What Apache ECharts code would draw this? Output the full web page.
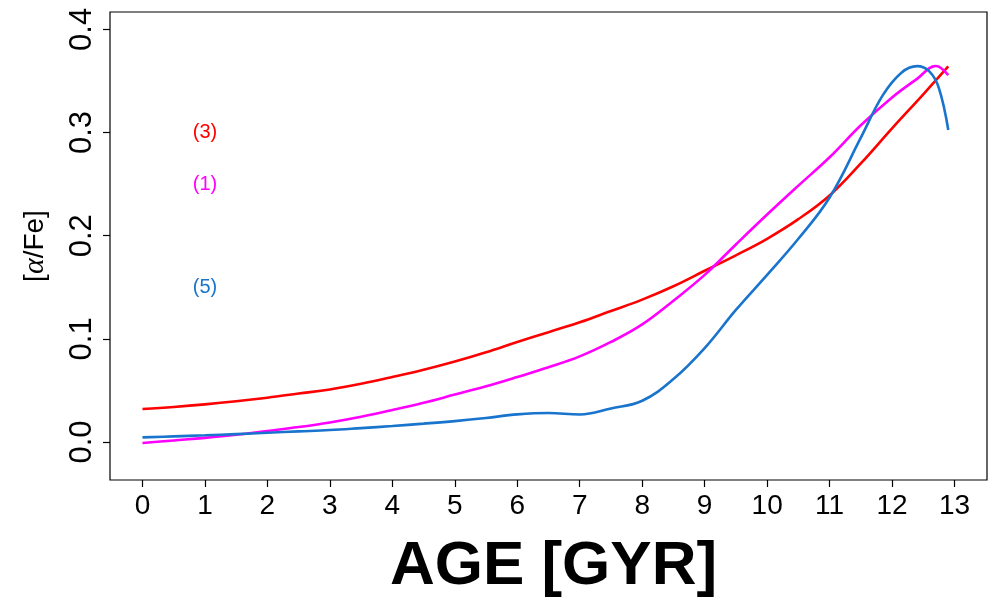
<!DOCTYPE html>
<html>
<head>
<meta charset="utf-8">
<script src="https://cdn.jsdelivr.net/npm/echarts@6/dist/echarts.min.js"></script>
<style>
  html, body { margin: 0; padding: 0; background: #fff; }
  #chart { width: 998px; height: 599px; }
</style>
</head>
<body>
<div id="chart"></div>
<script>
// [alpha/Fe] evolution with age for three models
const ageTicks = [0, 1, 2, 3, 4, 5, 6, 7, 8, 9, 10, 11, 12, 13];
const alphaTicks = [0, 0.1, 0.2, 0.3, 0.4];

// model (3)
const ageM3 = [0, 0.5, 1, 1.5, 2, 2.5, 3, 3.5, 4, 4.5, 5, 5.5, 6, 6.5, 7, 7.5, 8, 8.5, 9, 9.5, 10, 10.5, 11, 11.5, 12, 12.5, 12.9];
const alphaM3 = [0.032, 0.034, 0.0365, 0.0395, 0.043, 0.047, 0.051, 0.0565, 0.063, 0.070, 0.078, 0.087, 0.097, 0.1065, 0.116, 0.127, 0.138, 0.151, 0.166, 0.181, 0.197, 0.216, 0.239, 0.270, 0.304, 0.337, 0.364];

// model (1)
const ageM1 = [0, 0.5, 1, 1.5, 2, 2.5, 3, 3.5, 4, 4.5, 5, 5.5, 6, 6.5, 7, 7.5, 8, 8.5, 9, 9.5, 10, 10.5, 11, 11.5, 12, 12.4, 12.7, 12.9];
const alphaM1 = [-0.001, 0.0015, 0.004, 0.007, 0.0107, 0.0145, 0.019, 0.0245, 0.031, 0.038, 0.046, 0.054, 0.063, 0.0725, 0.083, 0.097, 0.114, 0.137, 0.162, 0.1915, 0.2205, 0.2485, 0.276, 0.307, 0.334, 0.352, 0.3645, 0.3556];

// model (5)
const ageM5 = [0, 0.5, 1, 1.5, 2, 2.5, 3, 3.5, 4, 4.5, 5, 5.5, 6, 6.5, 7, 7.5, 8, 8.5, 9, 9.5, 10, 10.5, 11, 11.5, 11.85, 12.15, 12.4, 12.6, 12.75, 12.9];
const alphaM5 = [0.0045, 0.0055, 0.0065, 0.0077, 0.009, 0.0103, 0.0116, 0.0135, 0.0155, 0.0178, 0.0203, 0.0233, 0.0268, 0.0282, 0.0267, 0.0325, 0.040, 0.061, 0.091, 0.128, 0.162, 0.197, 0.237, 0.295, 0.336, 0.358, 0.3643, 0.359, 0.343, 0.3024];

// labels placed inside the plot
const modelNames = ['(3)', '(1)', '(5)'];
const labelAge = 1;
const labelAlpha = [0.3, 0.25, 0.15];

const colors = ['#ff0000', '#ff00ff', '#1874cd'];
const FONT = "'Liberation Sans', Arial, Helvetica, sans-serif";

function zip(xs, ys) { return xs.map((x, i) => [x, ys[i]]); }

function lineSeries(name, xs, ys, color, idx) {
  return {
    name: name,
    type: 'line',
    data: zip(xs, ys),
    smooth: 0.4,
    showSymbol: false,
    symbol: 'none',
    lineStyle: { color: color, width: 2.6 },
    itemStyle: { color: color },
    silent: true,
    markPoint: {
      symbol: 'circle',
      symbolSize: 0,
      silent: true,
      label: {
        show: true,
        position: 'inside',
        formatter: modelNames[idx],
        color: color,
        fontSize: 20,
        fontFamily: FONT
      },
      data: [{ coord: [labelAge, labelAlpha[idx]] }]
    }
  };
}

const chart = echarts.init(document.getElementById('chart'), null, { renderer: 'canvas' });
chart.setOption({
  animation: false,
  backgroundColor: '#ffffff',
  grid: {
    left: 110, right: 11, top: 12, bottom: 119,
    containLabel: false,
    outerBoundsMode: 'none',
    show: true, borderColor: '#000', borderWidth: 1.2, backgroundColor: 'transparent'
  },
  xAxis: {
    type: 'value',
    min: -0.52, max: 13.52,
    position: 'bottom',
    name: 'AGE [GYR]',
    nameLocation: 'middle',
    nameGap: 56,
    nameTextStyle: { fontSize: 62, fontWeight: 'bold', color: '#000', fontFamily: FONT, padding: [0, 0, 0, 10] },
    axisLine: { show: false, onZero: false },
    splitLine: { show: false },
    axisTick: { show: true, inside: false, length: 7, customValues: ageTicks, lineStyle: { color: '#000', width: 1.2 } },
    axisLabel: { show: true, customValues: ageTicks, margin: 12, fontSize: 28, color: '#000', fontFamily: FONT, formatter: v => String(v) }
  },
  yAxis: {
    type: 'value',
    min: -0.0368, max: 0.4168,
    position: 'left',
    name: '{b|[}{a|α}{b|/Fe]}',
    nameLocation: 'middle',
    nameGap: 60,
    nameRotate: 90,
    nameTextStyle: {
      rich: {
        a: { fontSize: 30, fontStyle: 'italic', fontFamily: "'Liberation Serif', 'DejaVu Serif', serif", color: '#000' },
        b: { fontSize: 28, fontFamily: FONT, color: '#000' }
      }
    },
    axisLine: { show: false, onZero: false },
    splitLine: { show: false },
    axisTick: { show: true, inside: false, length: 7, customValues: alphaTicks, lineStyle: { color: '#000', width: 1.2 } },
    axisLabel: { show: true, customValues: alphaTicks, rotate: 90, margin: 12, fontSize: 31, color: '#000', fontFamily: FONT, formatter: v => v.toFixed(1) }
  },
  series: [
    lineSeries('(3)', ageM3, alphaM3, colors[0], 0),
    lineSeries('(1)', ageM1, alphaM1, colors[1], 1),
    lineSeries('(5)', ageM5, alphaM5, colors[2], 2)
  ]
});
</script>
</body>
</html>
